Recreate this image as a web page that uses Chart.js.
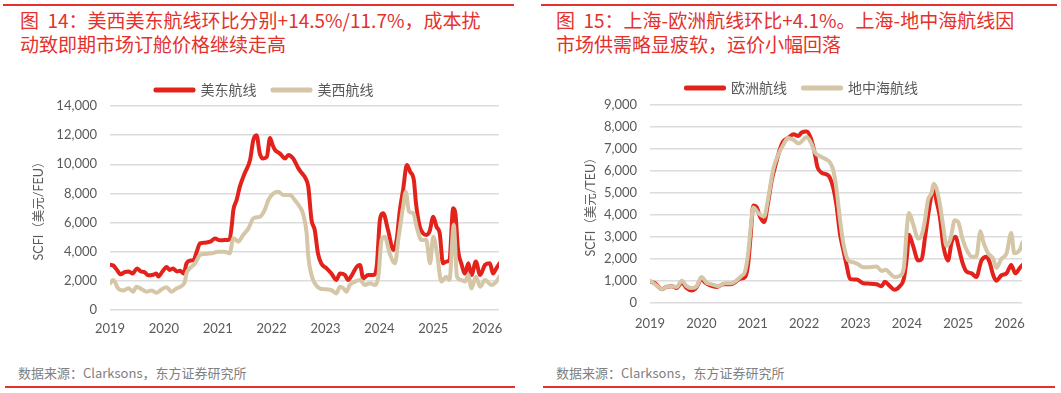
<!DOCTYPE html>
<html>
<head>
<meta charset="utf-8">
<script src="https://cdn.jsdelivr.net/npm/chart.js@4.4.1/dist/chart.umd.min.js"></script>
<style>
    body { margin: 0; width: 1061px; height: 393px; background: #fff; position: relative; overflow: hidden;
           font-family: "Noto Sans CJK SC", sans-serif; }
    .rule { position: absolute; height: 2px; background: #e4312b; }
    .title { position: absolute; top: 8px; font-size: 19px; line-height: 24px; color: #e4312b; white-space: nowrap; }
    .source { position: absolute; top: 363px; font-size: 13px; line-height: 20px; color: #808080; white-space: nowrap; }
    .box { position: absolute; top: 66px; height: 280px; }
</style>
</head>
<body>

<div class="rule" style="left:3px;width:511px;top:4px;"></div>
<div class="rule" style="left:541px;width:516px;top:4px;"></div>

<div class="title" style="left:20px;">图&nbsp;&nbsp;14：美西美东航线环比分别+14.5%/11.7%，成本扰<br>动致即期市场订舱价格继续走高</div>
<div class="title" style="left:556px;">图&nbsp;&nbsp;15：上海-欧洲航线环比+4.1%。上海-地中海航线因<br>市场供需略显疲软，运价小幅回落</div>

<div class="box" style="left:0;width:520px;"><canvas id="usRoutes"></canvas></div>
<div class="box" style="left:540px;width:521px;"><canvas id="euRoutes"></canvas></div>

<div class="source" style="left:18px;">数据来源：Clarksons，东方证券研究所</div>
<div class="source" style="left:556px;">数据来源：Clarksons，东方证券研究所</div>

<div class="rule" style="left:5px;width:510px;top:386px;"></div>
<div class="rule" style="left:543px;width:512px;top:386px;"></div>

<script>
// SCFI (decimal year / rate)
const yearLabels = ['2019', '2020', '2021', '2022', '2023', '2024', '2025', '2026'];

const eastDates = [2019.00, 2019.06, 2019.12, 2019.20, 2019.27, 2019.35, 2019.42, 2019.50, 2019.57, 2019.64,
    2019.71, 2019.80, 2019.86, 2019.90, 2019.97, 2020.05, 2020.11, 2020.17, 2020.24, 2020.30,
    2020.37, 2020.42, 2020.48, 2020.55, 2020.61, 2020.67, 2020.76, 2020.86, 2020.95, 2021.04,
    2021.13, 2021.22, 2021.26, 2021.29, 2021.35, 2021.41, 2021.50, 2021.60, 2021.66, 2021.72,
    2021.78, 2021.84, 2021.91, 2021.97, 2022.02, 2022.06, 2022.15, 2022.25, 2022.31, 2022.40,
    2022.50, 2022.56, 2022.62, 2022.68, 2022.74, 2022.80, 2022.86, 2022.92, 2023.02, 2023.11,
    2023.20, 2023.27, 2023.36, 2023.42, 2023.49, 2023.58, 2023.64, 2023.70, 2023.79, 2023.89,
    2023.95, 2024.01, 2024.07, 2024.16, 2024.26, 2024.32, 2024.38, 2024.44, 2024.51, 2024.57,
    2024.64, 2024.68, 2024.75, 2024.81, 2024.87, 2024.93, 2025.00, 2025.06, 2025.12, 2025.18,
    2025.24, 2025.30, 2025.37, 2025.41, 2025.46, 2025.52, 2025.59, 2025.65, 2025.71, 2025.79,
    2025.87, 2025.96, 2026.05, 2026.11, 2026.17, 2026.23];
const eastRates = [3100, 3050, 2800, 2450, 2600, 2650, 2500, 2850, 2650, 2600,
    2380, 2420, 2500, 2300, 2620, 2950, 2750, 2850, 2650, 2700,
    2500, 3200, 3380, 3430, 4000, 4580, 4620, 4690, 4900, 4780,
    4800, 4850, 5800, 6860, 7550, 8470, 9380, 10300, 11670, 12000,
    10750, 10400, 10500, 11800, 11300, 11000, 10750, 10400, 10640, 10400,
    9700, 9400, 9100, 8470, 6180, 5490, 3890, 3200, 2860, 2500,
    2060, 2500, 2400, 2060, 2400, 2970, 3090, 2170, 2400, 2400,
    2970, 6180, 6640, 5490, 4120, 4810, 6860, 8240, 9950, 9500,
    8900, 7300, 5720, 5260, 5150, 5380, 6400, 5720, 5260, 3200,
    3320, 3430, 6980, 6640, 4120, 3200, 2500, 3200, 2400, 3320,
    2400, 3090, 3200, 2500, 2860, 3200];

const westDates = [2019.00, 2019.06, 2019.15, 2019.25, 2019.34, 2019.43, 2019.49, 2019.59, 2019.68, 2019.77,
    2019.87, 2019.96, 2020.05, 2020.14, 2020.24, 2020.33, 2020.39, 2020.42, 2020.48, 2020.58,
    2020.67, 2020.76, 2020.89, 2021.01, 2021.13, 2021.22, 2021.29, 2021.38, 2021.47, 2021.57,
    2021.66, 2021.78, 2021.87, 2021.94, 2022.03, 2022.12, 2022.22, 2022.34, 2022.43, 2022.52,
    2022.58, 2022.65, 2022.68, 2022.74, 2022.80, 2022.89, 2023.02, 2023.11, 2023.20, 2023.27,
    2023.33, 2023.39, 2023.45, 2023.55, 2023.64, 2023.73, 2023.82, 2023.92, 2023.98, 2024.04,
    2024.10, 2024.19, 2024.29, 2024.35, 2024.44, 2024.49, 2024.55, 2024.63, 2024.69, 2024.78,
    2024.87, 2024.94, 2025.00, 2025.07, 2025.15, 2025.24, 2025.30, 2025.38, 2025.44, 2025.52,
    2025.59, 2025.65, 2025.71, 2025.79, 2025.87, 2025.96, 2026.08, 2026.17, 2026.23];
const westRates = [1830, 2060, 1490, 1330, 1490, 1260, 1600, 1420, 1260, 1330,
    1190, 1420, 1560, 1260, 1490, 1650, 1950, 2520, 2860, 3200,
    3780, 3840, 3890, 4000, 4000, 3890, 4920, 4690, 5150, 5600,
    6290, 6400, 6860, 7550, 8000, 8120, 7890, 7890, 7550, 7090,
    6640, 5260, 3660, 2400, 1830, 1490, 1420, 1370, 1140, 1600,
    1490, 1260, 1720, 1950, 2060, 1720, 1830, 1720, 2290, 4810,
    5030, 3890, 3200, 4810, 7090, 8120, 6750, 6640, 5720, 4810,
    4810, 3200, 5030, 3890, 1950, 2290, 2060, 5830, 2290, 2060,
    1950, 2400, 1490, 2290, 1600, 2060, 1720, 1950, 2290];

const euDates = [2019.00, 2019.10, 2019.23, 2019.32, 2019.42, 2019.52, 2019.62, 2019.71, 2019.81, 2019.91,
    2020.00, 2020.07, 2020.17, 2020.30, 2020.43, 2020.56, 2020.65, 2020.75, 2020.85, 2020.91,
    2020.96, 2021.01, 2021.08, 2021.14, 2021.22, 2021.30, 2021.37, 2021.46, 2021.53, 2021.59,
    2021.69, 2021.79, 2021.89, 2021.95, 2022.05, 2022.14, 2022.21, 2022.26, 2022.34, 2022.44,
    2022.50, 2022.57, 2022.63, 2022.70, 2022.76, 2022.83, 2022.89, 2023.02, 2023.15, 2023.28,
    2023.41, 2023.51, 2023.57, 2023.67, 2023.76, 2023.86, 2023.94, 2024.00, 2024.04, 2024.12,
    2024.22, 2024.29, 2024.35, 2024.41, 2024.48, 2024.52, 2024.58, 2024.64, 2024.71, 2024.80,
    2024.87, 2024.95, 2025.00, 2025.08, 2025.16, 2025.26, 2025.35, 2025.45, 2025.55, 2025.61,
    2025.68, 2025.74, 2025.84, 2025.94, 2026.03, 2026.11, 2026.20, 2026.25];
const euRates = [965, 900, 630, 730, 765, 680, 930, 680, 565, 730,
    1100, 930, 800, 730, 850, 850, 930, 1100, 1180, 1760,
    3100, 4430, 4340, 3930, 3680, 4590, 5590, 6420, 7000, 7340,
    7500, 7670, 7590, 7750, 7790, 7420, 6760, 6170, 5920, 5840,
    5700, 5200, 4430, 3100, 2430, 1680, 1100, 1065, 900, 880,
    850, 765, 965, 765, 600, 765, 1100, 2100, 3100, 2600,
    1930, 2010, 2930, 3930, 4930, 5170, 4590, 3930, 2600, 1930,
    2760, 3010, 2600, 1850, 1430, 1350, 1180, 1930, 2100, 1850,
    1260, 1015, 1260, 1350, 1730, 1350, 1600, 1730];

const medDates = [2019.00, 2019.10, 2019.23, 2019.36, 2019.52, 2019.62, 2019.71, 2019.81, 2019.91, 2020.00,
    2020.10, 2020.20, 2020.33, 2020.46, 2020.59, 2020.68, 2020.78, 2020.85, 2020.91, 2020.96,
    2021.01, 2021.11, 2021.22, 2021.30, 2021.40, 2021.50, 2021.59, 2021.69, 2021.79, 2021.89,
    2021.95, 2022.05, 2022.14, 2022.21, 2022.31, 2022.44, 2022.50, 2022.57, 2022.63, 2022.70,
    2022.76, 2022.86, 2022.95, 2023.05, 2023.15, 2023.28, 2023.41, 2023.51, 2023.59, 2023.67,
    2023.76, 2023.86, 2023.94, 2024.00, 2024.04, 2024.12, 2024.22, 2024.29, 2024.35, 2024.41,
    2024.48, 2024.52, 2024.58, 2024.64, 2024.71, 2024.77, 2024.85, 2024.93, 2025.00, 2025.08,
    2025.16, 2025.26, 2025.35, 2025.43, 2025.49, 2025.58, 2025.68, 2025.74, 2025.84, 2025.94,
    2026.03, 2026.09, 2026.20, 2026.25];
const medRates = [1015, 850, 630, 765, 730, 1015, 765, 680, 765, 1180,
    930, 850, 765, 900, 900, 1015, 1230, 1430, 2260, 3430,
    4340, 4090, 3930, 4760, 6090, 6760, 7170, 7500, 7420, 7250,
    7340, 7550, 7250, 6840, 6670, 6510, 6400, 6010, 5170, 3760,
    2760, 1930, 1850, 1760, 1630, 1630, 1660, 1460, 1510, 1350,
    1180, 1230, 1600, 3430, 4090, 3590, 2930, 3100, 3760, 4680,
    5010, 5420, 5170, 4510, 3430, 2600, 2930, 3760, 3680, 2930,
    2430, 2100, 2100, 3260, 2760, 2260, 2010, 1600, 2010, 2260,
    3180, 2260, 2430, 2760];

const RED = '#e3231b';
const BEIGE = '#d4c6a6';
const GREY = '#595959';

var Routes = {
    init: function () {
        Chart.defaults.font.family = 'Lato, "Noto Sans CJK SC", sans-serif';
        Chart.defaults.color = GREY;

        Routes.usChart();
        Routes.euChart();
    },
    points: function (dates, rates) {
        let out = [];
        for (let i = 0; i < dates.length; i++) {
            out.push({x: dates[i], y: rates[i]});
        }
        return out;
    },
    line: function (label, color, dates, rates, order) {
        return {
            label: label,
            data: Routes.points(dates, rates),
            borderColor: color,
            backgroundColor: color,
            borderWidth: 4,
            pointRadius: 0,
            cubicInterpolationMode: 'monotone',
            borderJoinStyle: 'round',
            borderCapStyle: 'round',
            order: order
        };
    },
    options: function (o) {
        return {
            responsive: true,
            maintainAspectRatio: false,
            animation: false,
            layout: {padding: {top: o.padTop, right: o.padRight, left: o.padLeft, bottom: 0}},
            plugins: {
                tooltip: {enabled: false},
                legend: {
                    position: 'top',
                    maxHeight: o.legendHeight,
                    labels: {
                        boxWidth: 38,
                        boxHeight: 1,
                        padding: 16,
                        color: GREY,
                        font: {size: 14},
                        sort: function (a, b) { return a.datasetIndex - b.datasetIndex; }
                    }
                }
            },
            scales: {
                x: {
                    type: 'linear',
                    min: 2019,
                    max: o.xMax,
                    grid: {display: false},
                    border: {display: false},
                    afterFit: function (scale) { scale.height = o.xHeight; },
                    ticks: {
                        stepSize: 1,
                        includeBounds: false,
                        maxRotation: 0,
                        padding: o.xPad,
                        color: GREY,
                        font: {size: 13},
                        callback: function (v) {
                            let i = v - 2019;
                            return Number.isInteger(i) ? yearLabels[i] : '';
                        }
                    }
                },
                y: {
                    min: 0,
                    max: o.yMax,
                    grid: {color: '#dcdcdc', lineWidth: 1.5, drawTicks: false},
                    border: {display: false},
                    afterFit: function (scale) { scale.width = 110 - o.padLeft; },
                    title: {
                        display: true,
                        text: o.yTitle,
                        color: GREY,
                        font: {size: 12.5},
                        padding: {top: o.titlePad, bottom: 0}
                    },
                    ticks: {
                        stepSize: o.yStep,
                        padding: 13,
                        color: GREY,
                        font: {size: 13},
                        callback: function (v) { return v.toLocaleString('en-US'); }
                    }
                }
            }
        };
    },
    usChart: function () {
        new Chart(document.getElementById('usRoutes'), {
            type: 'line',
            data: {
                datasets: [
                    Routes.line('美东航线', RED, eastDates, eastRates, 1),
                    Routes.line('美西航线', BEIGE, westDates, westRates, 0)
                ]
            },
            options: Routes.options({
                padTop: 1, padRight: 21, padLeft: 30, legendHeight: 39, xMax: 2026.22, xHeight: 36, xPad: 3,
                yMax: 14000, yStep: 2000, yTitle: 'SCFI（美元/FEU）', titlePad: 1
            })
        });
    },
    euChart: function () {
        new Chart(document.getElementById('euRoutes'), {
            type: 'line',
            data: {
                datasets: [
                    Routes.line('欧洲航线', RED, euDates, euRates, 1),
                    Routes.line('地中海航线', BEIGE, medDates, medRates, 0)
                ]
            },
            options: Routes.options({
                padTop: -1, padRight: 39, padLeft: 42, legendHeight: 58, xMax: 2026.24, xHeight: 43, xPad: 5,
                yMax: 9000, yStep: 1000, yTitle: 'SCFI（美元/TEU）', titlePad: 1
            })
        });
    }
};

Routes.init();
</script>
</body>
</html>
